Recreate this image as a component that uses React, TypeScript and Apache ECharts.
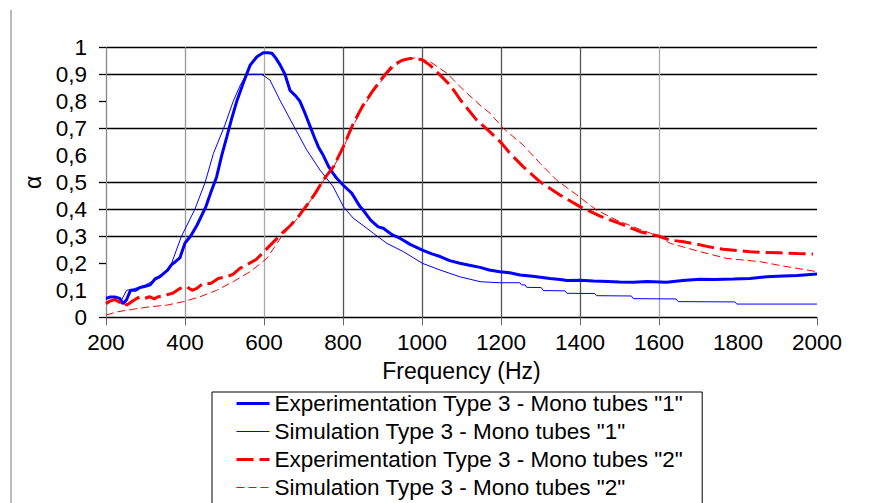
import React, { useEffect, useRef } from "react";
import * as echarts from "echarts";

// Frequency (Hz) / absorption coefficient alpha
const exp1Freq = [200, 210, 222, 235, 243, 252, 262, 275, 286, 300, 312, 324, 335, 344, 356, 366, 375, 387, 400, 414, 430, 453, 466, 480, 493, 506, 518, 531, 548, 565, 582, 598, 610, 620, 630, 641, 653, 666, 680, 691, 704, 716, 728, 738, 750, 763, 774, 784, 800, 822, 843, 851, 870, 889, 902, 925, 944, 970, 1001, 1025, 1046, 1070, 1096, 1120, 1147, 1170, 1197, 1222, 1248, 1280, 1324, 1350, 1367, 1400, 1434, 1470, 1500, 1535, 1570, 1619, 1660, 1704, 1740, 1788, 1830, 1873, 1914, 1950, 2000];
const exp1Alpha = [0.07, 0.075, 0.075, 0.07, 0.05, 0.065, 0.1, 0.1, 0.11, 0.115, 0.12, 0.142, 0.15, 0.16, 0.175, 0.195, 0.205, 0.22, 0.275, 0.3, 0.34, 0.41, 0.465, 0.52, 0.6, 0.669, 0.735, 0.8, 0.87, 0.934, 0.965, 0.98, 0.98, 0.978, 0.96, 0.934, 0.9, 0.84, 0.82, 0.8, 0.755, 0.71, 0.665, 0.63, 0.6, 0.56, 0.535, 0.515, 0.49, 0.46, 0.41, 0.397, 0.36, 0.335, 0.33, 0.305, 0.293, 0.27, 0.249, 0.235, 0.225, 0.21, 0.2, 0.193, 0.185, 0.175, 0.169, 0.165, 0.157, 0.152, 0.144, 0.14, 0.136, 0.137, 0.134, 0.133, 0.131, 0.13, 0.133, 0.13, 0.136, 0.141, 0.14, 0.142, 0.144, 0.15, 0.153, 0.155, 0.16];

const sim1Freq = [200, 205, 215, 228, 240, 252, 270, 300, 320, 341, 366, 391, 425, 451, 472, 501, 522, 540, 556, 594, 615, 640, 674, 708, 742, 775, 801, 826, 851, 877, 911, 953, 1001, 1046, 1096, 1147, 1197, 1248, 1252, 1261, 1265, 1302, 1307, 1362, 1367, 1437, 1442, 1530, 1535, 1643, 1649, 1792, 1797, 2000];
const sim1Alpha = [0.065, 0.075, 0.075, 0.07, 0.065, 0.1, 0.105, 0.12, 0.135, 0.15, 0.2, 0.3, 0.4, 0.5, 0.607, 0.712, 0.8, 0.86, 0.9, 0.9, 0.879, 0.805, 0.712, 0.62, 0.545, 0.484, 0.41, 0.367, 0.34, 0.311, 0.274, 0.243, 0.2, 0.175, 0.15, 0.132, 0.128, 0.128, 0.12, 0.12, 0.111, 0.11, 0.099, 0.098, 0.089, 0.088, 0.08, 0.079, 0.069, 0.068, 0.058, 0.057, 0.049, 0.049];

const exp2Freq = [200, 210, 222, 235, 245, 252, 265, 276, 286, 298, 311, 322, 332, 345, 354, 370, 387, 404, 418, 430, 446, 465, 484, 506, 522, 539, 556, 581, 598, 611, 628, 645, 667, 687, 712, 730, 750, 776, 801, 826, 851, 877, 902, 927, 950, 970, 999, 1020, 1046, 1071, 1100, 1138, 1172, 1202, 1223, 1256, 1299, 1349, 1400, 1451, 1510, 1552, 1598, 1628, 1662, 1695, 1730, 1763, 1800, 1830, 1870, 1906, 1950, 1990];
const exp2Alpha = [0.05, 0.06, 0.066, 0.055, 0.06, 0.045, 0.058, 0.068, 0.076, 0.07, 0.076, 0.068, 0.076, 0.078, 0.083, 0.09, 0.107, 0.113, 0.1, 0.107, 0.126, 0.125, 0.144, 0.15, 0.16, 0.181, 0.194, 0.215, 0.24, 0.26, 0.285, 0.311, 0.34, 0.373, 0.422, 0.46, 0.508, 0.558, 0.632, 0.718, 0.786, 0.842, 0.891, 0.934, 0.952, 0.959, 0.955, 0.934, 0.897, 0.86, 0.8, 0.731, 0.687, 0.644, 0.607, 0.558, 0.502, 0.453, 0.41, 0.375, 0.342, 0.317, 0.301, 0.286, 0.28, 0.271, 0.26, 0.252, 0.247, 0.243, 0.24, 0.239, 0.236, 0.234];

const sim2Freq = [200, 227, 269, 311, 354, 396, 438, 480, 522, 565, 607, 645, 687, 712, 750, 776, 800, 826, 851, 877, 902, 927, 950, 985, 1020, 1063, 1105, 1147, 1172, 1206, 1256, 1299, 1341, 1392, 1442, 1493, 1544, 1598, 1628, 1704, 1772, 1856, 1914, 2000];
const sim2Alpha = [0.008, 0.02, 0.03, 0.039, 0.045, 0.058, 0.076, 0.1, 0.132, 0.169, 0.218, 0.3, 0.37, 0.42, 0.505, 0.555, 0.625, 0.71, 0.78, 0.835, 0.885, 0.925, 0.95, 0.962, 0.947, 0.904, 0.842, 0.786, 0.756, 0.7, 0.638, 0.57, 0.508, 0.453, 0.397, 0.36, 0.33, 0.301, 0.274, 0.243, 0.218, 0.206, 0.19, 0.169];

const seriesNames = [
  'Experimentation Type 3 - Mono tubes "1"',
  'Simulation Type 3 - Mono tubes "1"',
  'Experimentation Type 3 - Mono tubes "2"',
  'Simulation Type 3 - Mono tubes "2"',
];

const xTicks = [200, 400, 600, 800, 1000, 1200, 1400, 1600, 2000];
const yTicks = [0, 0.2, 0.3, 0.4, 0.5, 0.7, 0.8, 0.9, 1];

const FONT = "'Liberation Sans', Arial, sans-serif";
const BLUE = "#0000ff";
const RED = "#ff0000";

const zip = (f: number[], a: number[]) => f.map((v, i) => [v, a[i]]);

export default function App() {
  const ref = useRef<HTMLDivElement>(null);
  useEffect(() => {
    if (!ref.current) return;
    const chart = echarts.init(ref.current, null, { renderer: "svg" });
    const styles = [
      { color: BLUE, width: 3, type: "solid" as any },
      { color: BLUE, width: 1, type: "solid" as any },
      { color: RED, width: 3, type: [17, 6] as any },
      { color: RED, width: 1, type: [8, 4] as any },
    ];
    const datas = [
      zip(exp1Freq, exp1Alpha),
      zip(sim1Freq, sim1Alpha),
      zip(exp2Freq, exp2Alpha),
      zip(sim2Freq, sim2Alpha),
    ];
    chart.setOption({
      animation: false,
      backgroundColor: "#ffffff",
      grid: { left: 106, right: 52, top: 47.3, bottom: 185.7 },
      xAxis: {
        type: "value",
        min: 200,
        max: 2000,
        interval: 200,
        name: "Frequency (Hz)",
        nameLocation: "middle",
        nameGap: 40,
        nameTextStyle: { fontSize: 23, color: "#000", fontFamily: FONT },
        axisLine: { show: false },
        axisTick: { show: true, customValues: xTicks, length: 8, lineStyle: { color: "#666", width: 1 } },
        axisLabel: { fontSize: 22.5, color: "#000", fontFamily: FONT, margin: 14, formatter: (v: number) => String(v) },
        splitLine: {
          show: true,
          lineStyle: {
            width: 1.3,
            color: ["#888", "#999", "#aaa", "#555", "#555", "#555", "#555", "#aaa", "rgba(0,0,0,0)", "#555"],
          },
        },
      },
      yAxis: {
        type: "value",
        min: 0,
        max: 1,
        interval: 0.1,
        name: "α",
        nameLocation: "middle",
        nameGap: 54,
        nameRotate: 90,
        nameTextStyle: { fontSize: 23, color: "#000", fontFamily: FONT },
        axisLine: { show: false },
        axisTick: { show: true, customValues: yTicks, length: 7, lineStyle: { color: "#000", width: 1.3 } },
        axisLabel: {
          fontSize: 22.5,
          color: "#000",
          fontFamily: FONT,
          margin: 19,
          formatter: (v: number) => (v === 0 ? "0" : v === 1 ? "1" : v.toFixed(1).replace(".", ",")),
        },
        splitLine: {
          show: true,
          lineStyle: {
            width: 1.3,
            color: ["#000", "rgba(0,0,0,0)", "#000", "#000", "#000", "#000", "rgba(0,0,0,0)", "#000", "#000", "#000", "#000"],
          },
        },
      },
      legend: {
        orient: "vertical",
        left: 212,
        top: 392,
        height: 200,
        selectedMode: false,
        data: seriesNames.map((n, i) => ({
          name: n,
          lineStyle: { color: styles[i].color, width: styles[i].width, type: styles[i].type },
          itemStyle: { opacity: 0 },
        })),
        itemWidth: 33,
        itemHeight: 2,
        itemGap: 5,
        itemStyle: { opacity: 0 },
        padding: [0, 19, 12, 23],
        borderColor: "#000",
        borderWidth: 1,
        textStyle: { fontSize: 22.5, color: "#000", fontFamily: FONT, lineHeight: 22 },
      },
      graphic: [
        {
          type: "line",
          shape: { x1: 11, y1: 10, x2: 11, y2: 503 },
          style: { stroke: "#777", lineWidth: 1 },
        },
      ],
      series: seriesNames.map((n, i) => ({
        name: n,
        type: "line",
        data: datas[i],
        showSymbol: false,
        symbol: "none",
        lineStyle: styles[i],
        itemStyle: { color: styles[i].color },
        z: i % 2 === 0 ? 4 : 3,
      })),
    });
    return () => chart.dispose();
  }, []);
  return (
    <div
      ref={ref}
      style={{ position: "absolute", left: 0, top: 0, width: 869, height: 503, background: "#fff" }}
    />
  );
}
